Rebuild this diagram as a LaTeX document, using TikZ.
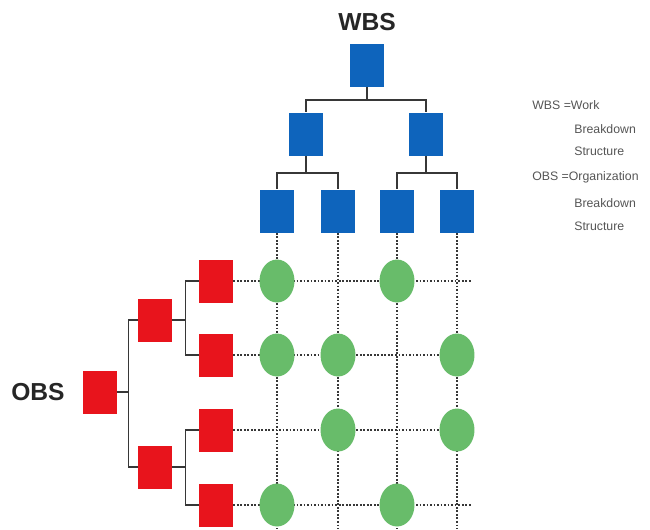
\documentclass[tikz,border=0pt]{standalone}
\usepackage{fontspec}
\setmainfont{Liberation Sans}
\usetikzlibrary{shapes.geometric}
\definecolor{wbsblue}{RGB}{14,100,188}
\definecolor{obsred}{RGB}{232,20,28}
\definecolor{cellgreen}{RGB}{104,188,106}
\definecolor{linegray}{RGB}{55,55,55}
\definecolor{notegray}{RGB}{85,85,85}
\tikzstyle{wbox}=[rectangle,fill=wbsblue,minimum width=0.68cm,minimum height=0.86cm,inner sep=0pt, anchor = center]
\tikzstyle{obox}=[wbox,fill=obsred]
\tikzstyle{cell}=[ellipse,fill=cellgreen,minimum width=0.7cm,minimum height=0.86cm,inner sep=0pt]
\tikzstyle{branch}=[draw=linegray, line width=0.9pt]
\tikzstyle{gridline}=[draw=linegray, line width=1pt, densely dotted]
\tikzstyle{title} = [font=\fontsize{14}{16}\selectfont\bfseries, text=black!85]
\tikzstyle{note} = [anchor=west, inner sep=0pt, text=notegray, font=\fontsize{7}{8}\selectfont]
\begin{document}
\begin{tikzpicture}[x=0.02cm, y=-0.02cm]
	\useasboundingbox (0,0) rectangle (650,529);
	\coordinate (bottom) at (0,529);
	\coordinate (right) at (472,0);

	% WBS tree
	\node[title] (wbs) at (367,22) {WBS};
	\node[wbox] (w0) at (367,65){};
	\node[wbox] (w1) at (306,134){};
	\node[wbox] (w2) at (426,134){};
	\node[wbox] (w11) at (277,211){};
	\node[wbox] (w12) at (338,211){};
	\node[wbox] (w21) at (397,211){};
	\node[wbox] (w22) at (457,211){};
	\draw[branch] (w0.south) -- ++(0,13) -| (w1.north);
	\draw[branch] (w0.south) -- ++(0,13) -| (w2.north);
	\foreach \p in {1,2}
	{
		\draw[branch] (w\p.south) -- ++(0,17) -| (w\p1.north);
		\draw[branch] (w\p.south) -- ++(0,17) -| (w\p2.north);
	}

	% OBS tree
	\node[title] (obs) at (38,392) {OBS};
	\node[obox] (o0) at (100,392){};
	\node[obox] (o1) at (155,320){};
	\node[obox] (o2) at (155,467){};
	\node[obox] (o11) at (216,281){};
	\node[obox] (o12) at (216,355){};
	\node[obox] (o21) at (216,430){};
	\node[obox] (o22) at (216,505){};
	\draw[branch] (o0.east) -- ++(11,0) |- (o1.west);
	\draw[branch] (o0.east) -- ++(11,0) |- (o2.west);
	\foreach \p in {1,2}
	{
		\draw[branch] (o\p.east) -- ++(13,0) |- (o\p1.west);
		\draw[branch] (o\p.east) -- ++(13,0) |- (o\p2.west);
	}

	% matrix
	\foreach \c in {w11,w12,w21,w22}
		\draw[gridline] (\c.south) -- (\c.south |- bottom);
	\foreach \r in {o11,o12,o21,o22}
		\draw[gridline] (\r.east) -- (\r.east -| right);
	\foreach \r/\c in {o11/w11,o11/w21,o12/w11,o12/w12,o12/w22,o21/w12,o21/w22,o22/w11,o22/w21}
		\node[cell] (\r\c) at (\c |- \r){};

	% legend
	\node[note] (n1) at (532,105) {WBS =Work};
	\node[note] (n2) at (574,129) {Breakdown};
	\node[note] (n3) at (574,151) {Structure};
	\node[note] (n4) at (532,177) {OBS =Organization};
	\node[note] (n5) at (574,203) {Breakdown};
	\node[note] (n6) at (574,226) {Structure};
\end{tikzpicture}
\end{document}
